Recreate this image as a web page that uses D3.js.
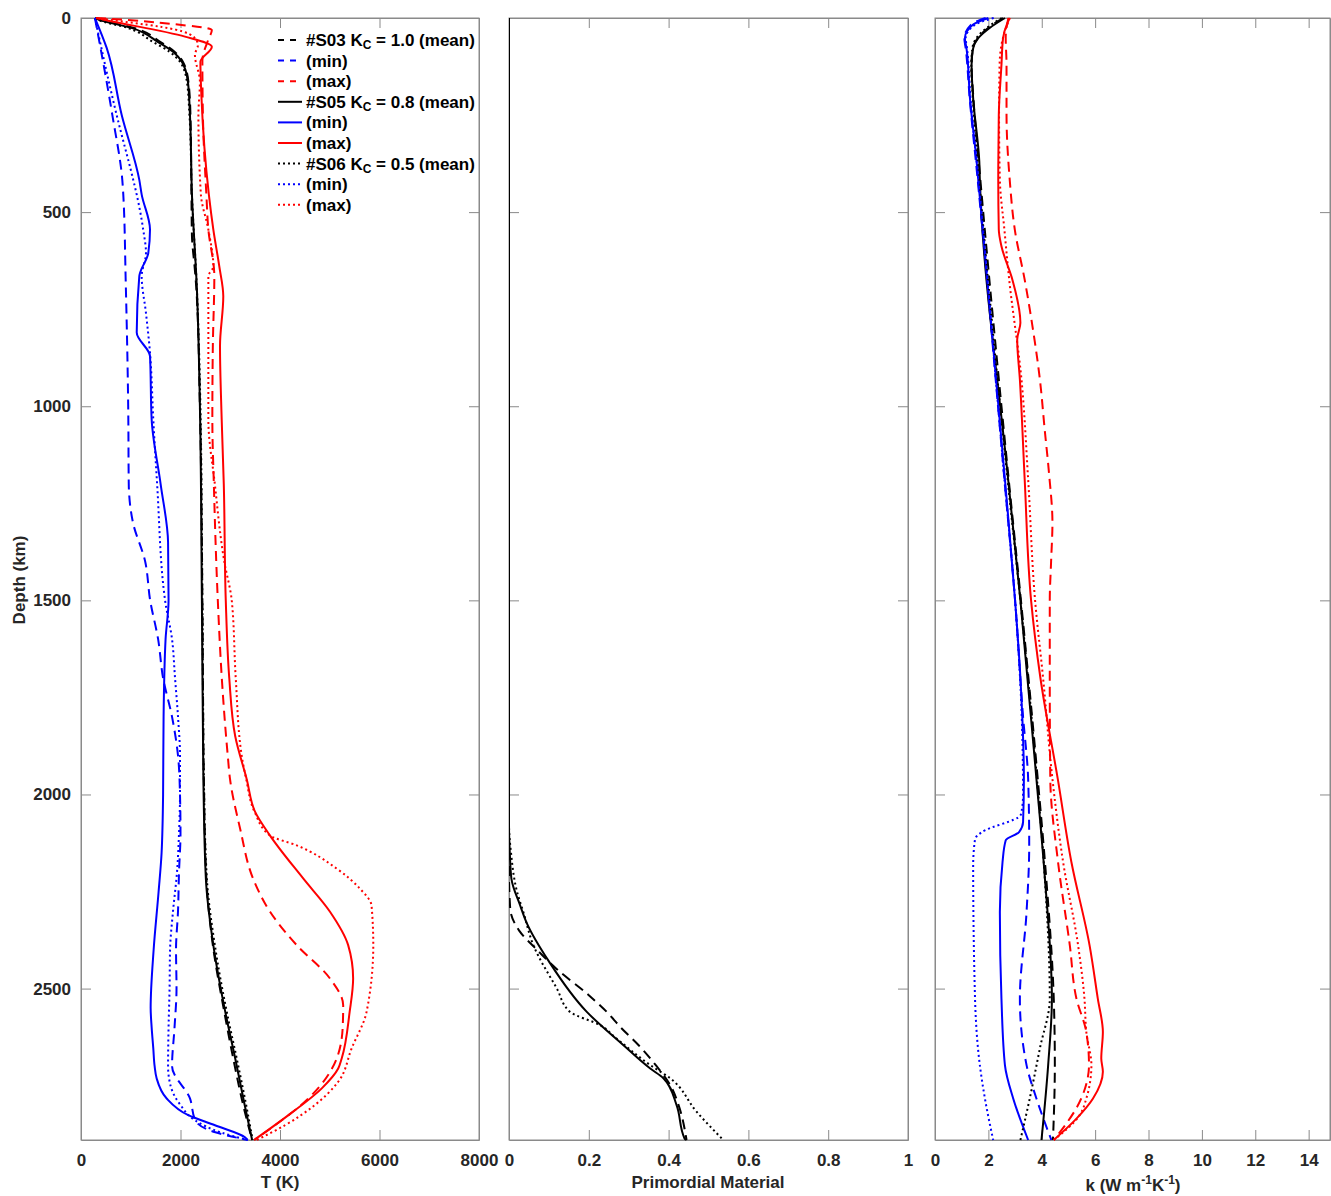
<!DOCTYPE html>
<html lang="en">
<head>
<meta charset="UTF-8">
<title>Mantle profiles</title>
<script src="https://d3js.org/d3.v7.min.js"></script>
<style>
  body { margin: 0; background: #fff; }
  svg text { font-family: "Liberation Sans", Arial, Helvetica, sans-serif; font-weight: bold; }
  .axis path, .axis line { stroke: #8a8a8a; }
  .axis text { fill: #262626; font-size: 17px; }
</style>
</head>
<body>
<svg id="chart" width="1331" height="1196"></svg>
<script>
// ---- data: [depth km, value] ----
// temperature (K)
const T_S03_mean = [[0,290],[5,400],[26,1080],[62,1600],[87,1880],[113,2050],[165,2160],[250,2200],[455,2220],[560,2230],[650,2290],[700,2320],[1000,2390],[1500,2440],[1960,2470],[2217,2520],[2388,2650],[2560,2880],[2680,3060],[2800,3260],[2890,3440]];
const T_S03_min = [[0,280],[250,630],[417,830],[455,850],[674,898],[1016,950],[1200,960],[1300,1045],[1400,1290],[1500,1390],[1600,1550],[1700,1650],[1800,1830],[1900,1950],[2000,1990],[2100,2000],[2200,1970],[2300,1950],[2400,1910],[2500,1920],[2600,1880],[2700,1830],[2783,2190],[2840,2300],[2870,2700],[2890,3350]];
const T_S03_max = [[0,300],[3,700],[15,1800],[31,2630],[55,2560],[110,2440],[250,2450],[455,2520],[545,2560],[665,2680],[845,2650],[1034,2640],[1200,2670],[1500,2750],[1700,2830],[1900,2950],[1960,2995],[2089,3200],[2217,3460],[2302,3800],[2388,4335],[2474,5005],[2543,5270],[2600,5260],[2680,5140],[2783,4570],[2852,3900],[2890,3480]];
const T_S05_mean = [[0,290],[5,380],[26,1030],[62,1550],[87,1850],[113,2030],[165,2150],[250,2190],[455,2230],[700,2330],[1000,2390],[1500,2430],[1960,2460],[2217,2510],[2388,2660],[2560,2900],[2680,3100],[2800,3290],[2890,3440]];
const T_S05_min = [[0,280],[77,516],[250,818],[417,1172],[455,1220],[545,1387],[605,1353],[665,1172],[810,1120],[871,1387],[1034,1420],[1200,1600],[1350,1750],[1500,1760],[1600,1700],[1800,1660],[2000,1650],[2150,1620],[2250,1560],[2400,1460],[2550,1400],[2600,1420],[2654,1453],[2700,1480],[2731,1520],[2783,1722],[2826,2157],[2852,2693],[2883,3296],[2890,3350]];
const T_S05_max = [[0,300],[5,480],[48,2090],[74,2630],[113,2400],[200,2420],[455,2570],[545,2660],[640,2780],[717,2860],[845,2794],[1034,2828],[1200,2870],[1500,2910],[1700,2980],[1850,3100],[1960,3330],[2045,3500],[2106,3800],[2217,4470],[2302,5005],[2388,5370],[2474,5470],[2560,5400],[2680,5240],[2706,5170],[2757,4840],[2826,4170],[2890,3480]];
const T_S06_mean = [[0,290],[5,350],[26,950],[62,1450],[87,1780],[113,1990],[165,2130],[250,2180],[455,2230],[700,2330],[1000,2400],[1500,2440],[1960,2470],[2217,2530],[2388,2690],[2560,2930],[2680,3130],[2800,3320],[2890,3450]];
const T_S06_min = [[0,280],[250,717],[417,1050],[455,1120],[545,1250],[605,1306],[665,1220],[760,1306],[862,1387],[1034,1453],[1200,1530],[1500,1690],[1600,1830],[1700,1890],[1800,1950],[1900,1990],[2000,1990],[2100,1970],[2200,1930],[2300,1850],[2400,1790],[2500,1780],[2600,1760],[2700,1750],[2750,1800],[2800,2000],[2840,2300],[2870,2800],[2890,3350]];
const T_S06_max = [[0,300],[5,600],[30,1900],[52,2290],[70,2350],[95,2290],[164,2390],[250,2360],[455,2410],[545,2560],[640,2660],[665,2560],[1034,2560],[1200,2690],[1400,2880],[1500,3030],[1700,3110],[1900,3230],[1960,3320],[2045,3490],[2106,3800],[2131,4335],[2191,5140],[2243,5610],[2286,5840],[2388,5875],[2560,5740],[2654,5440],[2740,5170],[2800,4700],[2852,4100],[2890,3530]];

// primordial material fraction
const PM_S03 = [[0,0],[2200,0],[2294,0.003],[2350,0.025],[2400,0.07],[2450,0.12],[2517,0.2],[2560,0.245],[2600,0.28],[2646,0.325],[2700,0.37],[2750,0.405],[2800,0.425],[2890,0.445]];
const PM_S05 = [[0,0],[2080,0],[2150,0.002],[2217,0.006],[2286,0.028],[2330,0.044],[2430,0.1],[2560,0.195],[2646,0.287],[2706,0.354],[2731,0.387],[2800,0.42],[2886,0.44],[2890,0.445]];
const PM_S06 = [[0,0],[2078,0],[2150,0.005],[2250,0.02],[2303,0.036],[2388,0.061],[2500,0.12],[2560,0.153],[2594,0.228],[2629,0.27],[2697,0.354],[2731,0.404],[2817,0.47],[2890,0.537]];

// thermal conductivity (W m-1 K-1)
const K_S03_mean = [[0,2.55],[25,2.0],[52,1.6],[78,1.42],[121,1.37],[207,1.44],[417,1.7],[1188,2.76],[1500,3.22],[1960,3.85],[2200,4.15],[2526,4.45],[2697,4.49],[2890,4.42]];
const K_S03_min = [[0,1.9],[17,1.35],[52,1.1],[78,1.15],[207,1.3],[417,1.6],[1188,2.6],[1500,3.0],[1800,3.3],[1960,3.49],[2131,3.53],[2303,3.43],[2526,3.18],[2697,3.43],[2783,3.8],[2890,4.36]];
const K_S03_max = [[0,2.75],[50,2.65],[121,2.68],[250,2.68],[417,2.8],[545,2.99],[674,3.36],[802,3.67],[931,3.93],[1060,4.11],[1171,4.27],[1300,4.4],[1400,4.35],[1500,4.3],[1700,4.3],[1960,4.32],[2174,4.61],[2388,5.05],[2526,5.3],[2612,5.67],[2697,5.77],[2783,5.48],[2890,4.45]];
const K_S05_mean = [[0,2.62],[25,2.06],[52,1.62],[78,1.43],[121,1.37],[207,1.43],[370,1.66],[417,1.68],[1188,2.74],[1500,3.2],[1960,3.8],[2200,4.1],[2526,4.38],[2697,4.24],[2890,3.99]];
const K_S05_min = [[0,2.0],[17,1.43],[52,1.12],[78,1.18],[207,1.31],[370,1.56],[417,1.62],[1188,2.62],[1500,3.0],[1700,3.2],[1960,3.33],[2071,3.3],[2097,3.15],[2118,2.65],[2174,2.53],[2303,2.43],[2526,2.49],[2697,2.62],[2783,2.93],[2890,3.49]];
const K_S05_max = [[0,2.8],[15,2.7],[52,2.55],[121,2.49],[250,2.39],[417,2.37],[545,2.39],[588,2.49],[674,2.9],[785,3.2],[828,3.08],[931,3.18],[1188,3.36],[1500,3.6],[1700,3.95],[1960,4.6],[2174,5.11],[2388,5.79],[2526,6.1],[2612,6.29],[2680,6.23],[2714,6.29],[2783,5.92],[2835,5.3],[2890,4.45]];
const K_S06_mean = [[0,2.5],[25,1.95],[52,1.55],[78,1.4],[121,1.36],[207,1.42],[417,1.66],[1188,2.72],[1500,3.2],[1960,3.82],[2200,4.1],[2526,4.3],[2654,3.93],[2783,3.55],[2890,3.2]];
const K_S06_min = [[0,2.2],[17,1.5],[52,1.15],[78,1.2],[207,1.33],[417,1.63],[1188,2.6],[1500,3.0],[1800,3.25],[2000,3.3],[2045,3.24],[2054,3.2],[2097,1.75],[2115,1.5],[2183,1.43],[2526,1.5],[2697,1.68],[2783,1.87],[2890,2.18]];
const K_S06_max = [[0,2.8],[50,2.55],[121,2.42],[250,2.4],[417,2.43],[545,2.6],[674,2.78],[931,3.24],[1188,3.49],[1500,3.75],[1700,4.05],[1960,4.4],[2174,4.8],[2388,5.36],[2526,5.6],[2612,5.67],[2697,5.86],[2783,5.67],[2826,5.42],[2890,4.45]];

// axes
const depthDomain = [0, 2890];
const depthTicks = [0, 500, 1000, 1500, 2000, 2500];
const tempTicks = [0, 2000, 4000, 6000, 8000];
const pmTicks = [0, 0.2, 0.4, 0.6, 0.8, 1];
const kTicks = [0, 2, 4, 6, 8, 10, 12, 14];

const legendLabels = ["#S03 K|C| = 1.0 (mean)", "(min)", "(max)",
                      "#S05 K|C| = 0.8 (mean)", "(min)", "(max)",
                      "#S06 K|C| = 0.5 (mean)", "(min)", "(max)"];

// ---- drawing ----
const svg = d3.select("#chart");
const plotTop = 18, plotBottom = 1140;
const y = d3.scaleLinear().domain(depthDomain).range([plotTop, plotBottom]);

const panels = [
    { x0: 81,  x1: 479,  domain: [0, 8000], ticks: tempTicks, yLabels: true },
    { x0: 509, x1: 908,  domain: [0, 1],    ticks: pmTicks,   yLabels: false },
    { x0: 935, x1: 1330, domain: [0, 14.8], ticks: kTicks,    yLabels: false }
];
panels.forEach(p => { p.x = d3.scaleLinear().domain(p.domain).range([p.x0, p.x1]); });

const dashed = "10,6", dotted = "2,3";
const styles = [
    { color: "#000", dash: dashed }, { color: "#0000ff", dash: dashed }, { color: "#ff0000", dash: dashed },
    { color: "#000", dash: null },   { color: "#0000ff", dash: null },   { color: "#ff0000", dash: null },
    { color: "#000", dash: dotted }, { color: "#0000ff", dash: dotted }, { color: "#ff0000", dash: dotted }
];

const tempSeries = [T_S03_mean, T_S03_min, T_S03_max, T_S05_mean, T_S05_min, T_S05_max, T_S06_mean, T_S06_min, T_S06_max];
const kSeries = [K_S03_mean, K_S03_min, K_S03_max, K_S05_mean, K_S05_min, K_S05_max, K_S06_mean, K_S06_min, K_S06_max];
const pmSeries = [PM_S03, PM_S05, PM_S06];
const pmStyles = [styles[0], styles[3], styles[6]];

// frame + axes
panels.forEach(p => {
    const g = svg.append("g");
    g.append("rect")
        .attr("x", p.x0).attr("y", plotTop)
        .attr("width", p.x1 - p.x0).attr("height", plotBottom - plotTop)
        .attr("fill", "none").attr("stroke", "#8a8a8a");

    g.append("g").attr("class", "axis")
        .attr("transform", "translate(0," + plotBottom + ")")
        .call(d3.axisBottom(p.x).tickValues(p.ticks).tickSize(-10).tickSizeOuter(0).tickPadding(14).tickFormat(d => String(d)));
    g.append("g").attr("class", "axis")
        .attr("transform", "translate(0," + plotTop + ")")
        .call(d3.axisTop(p.x).tickValues(p.ticks).tickSize(-10).tickSizeOuter(0).tickFormat(""));
    g.append("g").attr("class", "axis")
        .attr("transform", "translate(" + p.x0 + ",0)")
        .call(d3.axisLeft(y).tickValues(depthTicks).tickSize(-10).tickSizeOuter(0).tickPadding(10)
            .tickFormat(p.yLabels ? (d => String(d)) : ""));
    g.append("g").attr("class", "axis")
        .attr("transform", "translate(" + p.x1 + ",0)")
        .call(d3.axisRight(y).tickValues(depthTicks).tickSize(-10).tickSizeOuter(0).tickFormat(""));
});
svg.selectAll(".axis .domain").attr("stroke", "#8a8a8a");

// clip per panel
panels.forEach((p, i) => {
    svg.append("clipPath").attr("id", "clip" + i)
        .append("rect").attr("x", p.x0).attr("y", plotTop - 2)
        .attr("width", p.x1 - p.x0).attr("height", plotBottom - plotTop + 4);
});

function drawLines(panelIdx, seriesList, styleList) {
    const p = panels[panelIdx];
    const line = d3.line()
        .x(d => p.x(d[1]))
        .y(d => y(d[0]))
        .curve(d3.curveMonotoneY);
    const g = svg.append("g").attr("clip-path", "url(#clip" + panelIdx + ")");
    seriesList.forEach((s, i) => {
        g.append("path")
            .attr("d", line(s))
            .attr("fill", "none")
            .attr("stroke", styleList[i].color)
            .attr("stroke-width", 2)
            .attr("stroke-dasharray", styleList[i].dash);
    });
}
drawLines(0, tempSeries, styles);
drawLines(1, pmSeries, pmStyles);
drawLines(2, kSeries, styles);

// axis titles
svg.append("text").attr("x", 280).attr("y", 1188).attr("text-anchor", "middle")
    .attr("font-size", 17).attr("fill", "#262626").text("T (K)");
svg.append("text").attr("x", 708).attr("y", 1188).attr("text-anchor", "middle")
    .attr("font-size", 17).attr("fill", "#262626").text("Primordial Material");
const kt = svg.append("text").attr("x", 1133).attr("y", 1191).attr("text-anchor", "middle")
    .attr("font-size", 17).attr("fill", "#262626");
kt.append("tspan").text("k (W m");
kt.append("tspan").attr("font-size", 12).attr("dy", -7).text("-1");
kt.append("tspan").attr("dy", 7).text("K");
kt.append("tspan").attr("font-size", 12).attr("dy", -7).text("-1");
kt.append("tspan").attr("dy", 7).text(")");
svg.append("text").attr("transform", "translate(25,580) rotate(-90)").attr("text-anchor", "middle")
    .attr("font-size", 17).attr("fill", "#262626").text("Depth (km)");

// legend
const lg = svg.append("g");
legendLabels.forEach((lab, i) => {
    const ly = 40 + i * 20.6;
    lg.append("line").attr("x1", 278).attr("x2", 302).attr("y1", ly).attr("y2", ly)
        .attr("stroke", styles[i].color).attr("stroke-width", 2)
        .attr("stroke-dasharray", styles[i].dash === dashed ? "6,6" : styles[i].dash);
    const t = lg.append("text").attr("x", 306).attr("y", ly + 6).attr("font-size", 17).attr("fill", "#000");
    const parts = lab.split("|");
    t.append("tspan").text(parts[0]);
    if (parts.length > 1) {
        t.append("tspan").attr("font-size", 12).attr("dy", 3).text(parts[1]);
        t.append("tspan").attr("dy", -3).text(parts[2]);
    }
});
</script>
</body>
</html>
